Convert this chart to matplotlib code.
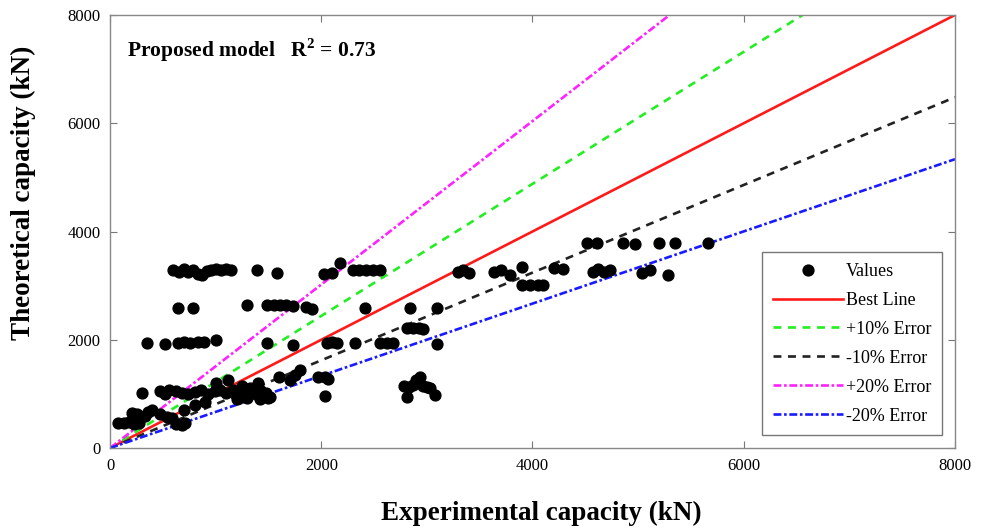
import numpy as np
import matplotlib
matplotlib.use("Agg")
import matplotlib.pyplot as plt

plt.rcParams["font.family"] = ["Liberation Serif", "DejaVu Serif"]
plt.rcParams["mathtext.fontset"] = "custom"
plt.rcParams["mathtext.rm"] = "Liberation Serif"
plt.rcParams["mathtext.bf"] = "Liberation Serif:bold"

# Puntos (kN)
exp_cap = [
    # fila ~3300
    600, 650, 700, 740, 790, 830, 870, 920, 960, 1000, 1050, 1100, 1150,
    1390, 1580, 2030, 2100, 2180, 2300, 2360, 2420, 2490, 2560,
    3290, 3340, 3400, 3640, 3700, 3790, 3900, 4200, 4290,
    4520, 4610, 4570, 4620, 4680, 4730, 4860, 4970, 5040, 5110, 5200, 5280, 5350, 5660,
    3900, 3980, 4050, 4100,
    # fila ~2600
    640, 790, 1300, 1490, 1550, 1610, 1670, 1730, 1860, 1910, 2410, 2840, 3095,
    2810, 2870, 2930, 2960,
    # fila ~1950
    350, 520, 640, 700, 760, 830, 890, 1000, 1490, 1730, 2050, 2100, 2150,
    2320, 2560, 2620, 2680, 3095,
    # grupo 2800-3050
    2780, 2830, 2870, 2900, 2935, 2960, 3000, 3030, 2810, 3075, 2900,
    # nube inferior
    300, 470, 520, 560, 620, 680, 740, 800, 860, 930, 990, 1040, 1100, 1160,
    1220, 1280, 1330, 1380, 1420, 1480, 1510,
    1000, 1120, 1250, 1400, 1600, 1700, 1800, 1750, 1970, 2040, 2065,
    1200, 1300, 1420, 1500, 1250, 2040,
    210, 260, 330, 360, 470, 540, 590, 75, 130, 180, 230, 270, 620, 680, 710,
    400, 700, 800, 900,
]
theo_cap = [
    3280, 3250, 3300, 3260, 3290, 3220, 3200, 3270, 3290, 3300, 3280, 3300, 3290,
    3290, 3230, 3210, 3230, 3420, 3290, 3290, 3290, 3290, 3290,
    3250, 3280, 3230, 3250, 3280, 3200, 3350, 3330, 3300,
    3780, 3790, 3250, 3300, 3250, 3280, 3790, 3760, 3230, 3290, 3790, 3200, 3790, 3790,
    3010, 3010, 3010, 3010,
    2590, 2590, 2640, 2640, 2650, 2640, 2640, 2620, 2600, 2560, 2590, 2590, 2590,
    2220, 2220, 2220, 2200,
    1940, 1930, 1940, 1950, 1940, 1950, 1960, 2000, 1940, 1900, 1940, 1950, 1940,
    1940, 1940, 1940, 1940, 1920,
    1150, 1130, 1160, 1200, 1310, 1150, 1130, 1110, 940, 980, 1250,
    1015, 1050, 1000, 1070, 1050, 1020, 1000, 1040, 1070, 1000, 1050, 1080, 1020, 1070,
    1000, 1050, 1100, 1000, 1080, 1020, 950,
    1200, 1250, 1150, 1200, 1310, 1250, 1440, 1350, 1310, 1310, 1280,
    900, 930, 900, 920, 950, 960,
    650, 620, 600, 660, 620, 580, 560, 460, 470, 480, 450, 470, 440, 430, 460,
    700, 700, 800, 850,
]

# Rectas de referencia (pendientes)
line_x = [0, 8000]
line_labels = ["Best Line", "+10% Error", "-10% Error", "+20% Error", "-20% Error"]
line_slopes = [1.0, 1.22, 0.81, 1.51, 0.667]
line_colors = ["#ff1a1a", "#22ee22", "#222222", "#ff22ff", "#1a1aff"]
line_styles = ["-", (0, (3, 2.5)), (0, (3, 2.5)), (0, (3, 1, 1, 1)), (0, (3, 1, 1, 1))]

fig = plt.figure(figsize=(9.85, 5.3), dpi=100)
ax = fig.add_axes([0.1117, 0.1547, 0.8578, 0.817])

ax.plot(exp_cap, theo_cap, "o", color="black", ms=7.8, label="Values", zorder=3)
for lab, k, c, ls in zip(line_labels, line_slopes, line_colors, line_styles):
    ax.plot(line_x, [k * v for v in line_x], color=c, ls=ls, lw=1.9,
            label=lab, zorder=2)

ax.set_xlim(0, 8000)
ax.set_ylim(0, 8000)
ax.set_xticks([0, 2000, 4000, 6000, 8000])
ax.set_yticks([0, 2000, 4000, 6000, 8000])
ax.tick_params(direction="in", top=True, right=True, length=5, color="#777777",
               labelsize=12, pad=7)
for s in ax.spines.values():
    s.set_color("#888888")
    s.set_linewidth(1.0)

ax.set_xlabel("Experimental capacity (kN)", fontsize=19.5, fontweight="bold")
ax.set_ylabel("Theoretical capacity (kN)", fontsize=19.5, fontweight="bold")
ax.xaxis.set_label_coords(0.511, -0.122)
ax.yaxis.set_label_coords(-0.088, 0.59)

ax.text(0.02, 0.919, "Proposed model   R$^{\\mathbf{2}}$ = 0.73", transform=ax.transAxes,
        fontsize=15.5, fontweight="bold", va="center", ha="left")

leg = ax.legend(loc="lower right", fontsize=13, frameon=True, fancybox=False,
                edgecolor="#555555", labelspacing=0.66, handlelength=3.9,
                handletextpad=0.15, borderaxespad=0.7, borderpad=0.6)
leg.get_frame().set_linewidth(1.0)

fig.savefig("out.png", dpi=100)
